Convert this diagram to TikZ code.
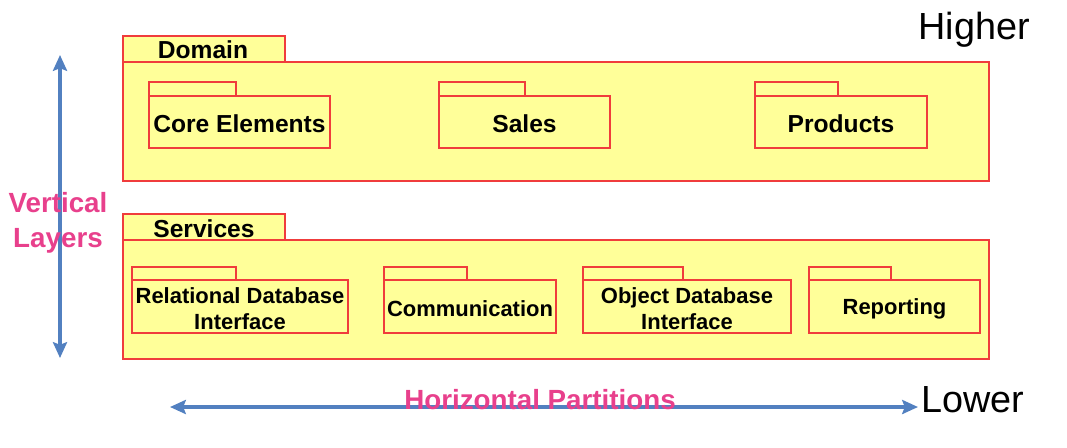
\documentclass[tikz,border=0pt]{standalone}
\usepackage{fontspec}
\setmainfont{Liberation Sans}
\usetikzlibrary{arrows.meta,positioning}
\definecolor{pkgfill}{HTML}{FFFF99}
\definecolor{pkgline}{HTML}{F03C3C}
\definecolor{axisblue}{HTML}{5280C0}
\definecolor{axispink}{HTML}{E8408C}
\tikzset{
  pkg/.style={draw=pkgline,fill=pkgfill,line width=0.9pt},
  pkgtitle/.style={font=\bfseries\fontsize{14}{16}\selectfont,inner sep=0pt},
  pkgname/.style={font=\bfseries\fontsize{14}{16}\selectfont,inner sep=0pt,align=center},
  subname/.style={font=\bfseries\fontsize{12.5}{14.8}\selectfont,inner sep=0pt,align=center},
  axis/.style={draw=axisblue,line width=2.6pt,{Stealth[length=9pt,width=8pt,inset=1.5pt]}-{Stealth[length=9pt,width=8pt,inset=1.5pt]}},
  axislabel/.style={text=axispink,font=\bfseries\fontsize{15.8}{19.8}\selectfont,inner sep=0pt,align=center},
  levellabel/.style={font=\fontsize{21.5}{24}\selectfont,inner sep=0pt}
}
\begin{document}
\begin{tikzpicture}[x=0.02cm,y=-0.02cm]
\useasboundingbox (0,0) rectangle (1067,447);
% outer packages
\draw[pkg] (123,36) rectangle (285,62); \draw[pkg] (123,62) rectangle (989,181);
\node[pkgtitle] (domain) at (203,50) {Domain};
\draw[pkg] (123,214) rectangle (285,240); \draw[pkg] (123,240) rectangle (989,359);
\node[pkgtitle] (services) at (204,229) {Services};
% domain packages
\foreach \nm/\xa/\xt/\xb/\txt in {core/149/236/330/Core Elements,sales/439/525/610/Sales,products/755/838/927/Products}{
  \draw[pkg] (\xa,82) rectangle (\xt,96);
  \draw[pkg] (\xa,96) rectangle (\xb,148);
  \node[pkgname] (\nm) at ({(\xa+\xb)/2},124) {\txt};
}
% service packages
\foreach \nm/\xa/\xt/\xb/\txt in {rdbi/132/236/348/{Relational Database\\Interface},comm/384/467/556/Communication,odbi/583/683/791/{Object Database\\Interface},report/809/891/980/Reporting}{
  \draw[pkg] (\xa,267) rectangle (\xt,280);
  \draw[pkg] (\xa,280) rectangle (\xb,333);
  \node[subname] (\nm) at ({(\xa+\xb)/2},309) {\txt};
}
% axes
\coordinate (vtop) at (60,55); \coordinate (vbot) at (60,358);
\coordinate (hleft) at (170,407); \coordinate (hright) at (918,407);
\draw[axis] (vtop)--(vbot);
\draw[axis] (hleft)--(hright);
\node[axislabel] (vlayers) at (58,223) {Vertical\\Layers};
\node[axislabel] (hparts) at (540,400) {Horizontal Partitions};
\node[levellabel] (higher) at (974,30) {Higher};
\node[levellabel] (lower) at (973,400) {Lower};
\end{tikzpicture}
\end{document}
